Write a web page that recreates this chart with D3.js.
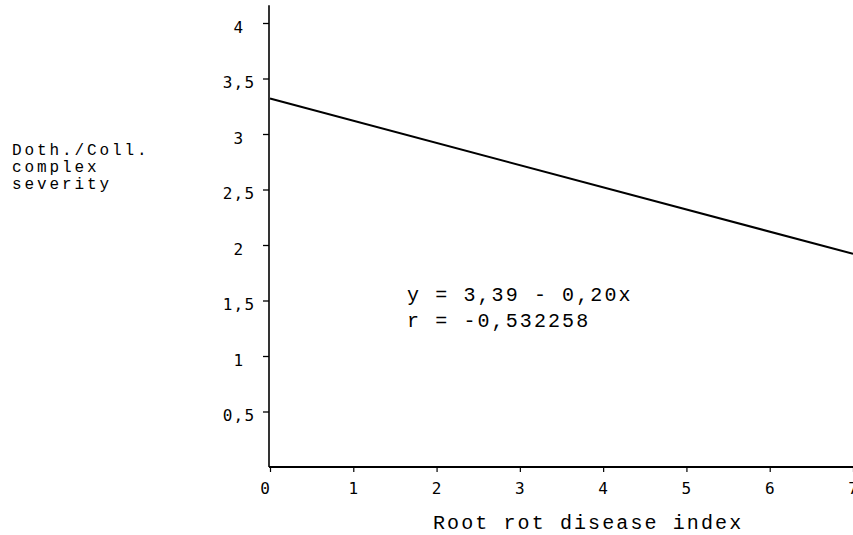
<!DOCTYPE html>
<html><head><meta charset="utf-8">
<script src="https://cdn.jsdelivr.net/npm/d3@7"></script>
<style>body{margin:0;background:#fff}svg{display:block}</style>
</head><body>
<svg id="c" width="853" height="535"></svg>
<script>
const xTicks = [0,1,2,3,4,5,6,7];
const xTickLabels = ["0","1","2","3","4","5","6","7"];
const yTicks = [0.5,1,1.5,2,2.5,3,3.5,4];
const yTickLabels = ["0,5","1","1,5","2","2,5","3","3,5","4"];
const lineX = [0, 7];
const lineY = [3.32, 1.92];
const eqLines = ["y = 3,39 - 0,20x", "r = -0,532258"];
const yTitle = ["Doth./Coll.", "complex", "severity"];
const xTitle = "Root rot disease index";

const svg = d3.select("#c");
const x = d3.scaleLinear().domain([0,7]).range([270,853]);
const y = d3.scaleLinear().domain([0,4]).range([467,23]);

const mono = "Liberation Mono, Cousine, Courier New, Courier, Nimbus Mono PS, FreeMono, monospace";
const tickFont = "DejaVu Sans Mono, monospace";

// axis lines
svg.append("line").attr("x1",x(0)-1).attr("x2",x(0)-1).attr("y1",y(4.16)).attr("y2",y(0))
  .attr("stroke","#000").attr("stroke-width",1.6);
svg.append("line").attr("x1",x(0)-1).attr("x2",853).attr("y1",y(0)).attr("y2",y(0))
  .attr("stroke","#000").attr("stroke-width",1.8);

// y axis ticks
const yAxis = d3.axisLeft(y).tickValues(yTicks).tickSize(6).tickFormat("");
const gy = svg.append("g").attr("transform",`translate(${x(0)-1},0)`).call(yAxis);
gy.select(".domain").remove();
gy.selectAll(".tick line").attr("stroke","#000").attr("stroke-width",1.3);
svg.append("g").selectAll("text").data(yTicks).join("text")
  .attr("x",239).attr("y",d=>y(d)+4).attr("dy","0.35em")
  .attr("text-anchor","middle")
  .attr("font-family",tickFont).attr("font-size",16).attr("letter-spacing",1.2)
  .text((d,i)=>yTickLabels[i]);

// x axis ticks
const xAxis = d3.axisBottom(x).tickValues(xTicks).tickSize(5).tickFormat("");
const gx = svg.append("g").attr("transform",`translate(0,${y(0)})`).call(xAxis);
gx.select(".domain").remove();
gx.selectAll(".tick line").attr("stroke","#000").attr("stroke-width",1.2);
svg.append("g").selectAll("text").data(xTicks).join("text")
  .attr("x",d=>x(d)-(d===0?5:0)).attr("y",494)
  .attr("text-anchor","middle")
  .attr("font-family",tickFont).attr("font-size",16)
  .text((d,i)=>xTickLabels[i]);

// regression line
const line = d3.line().x(d=>x(d[0])).y(d=>y(d[1]));
svg.append("path").datum(lineX.map((v,i)=>[v,lineY[i]]))
  .attr("d",line).attr("fill","none").attr("stroke","#000").attr("stroke-width",2);

// equation text
svg.append("g").selectAll("text").data(eqLines).join("text")
  .attr("x",407).attr("y",(d,i)=>301+i*26)
  .attr("font-family",mono).attr("font-size",20).attr("letter-spacing",2.1)
  .text(d=>d);

// y title
svg.append("g").selectAll("text").data(yTitle).join("text")
  .attr("x",12).attr("y",(d,i)=>155+i*17)
  .attr("font-family",mono).attr("font-size",16).attr("letter-spacing",2.9)
  .text(d=>d);

// x title
svg.append("text").attr("x",433).attr("y",529)
  .attr("font-family",mono).attr("font-size",20).attr("letter-spacing",2.1)
  .text(xTitle);
</script>
</body></html>
